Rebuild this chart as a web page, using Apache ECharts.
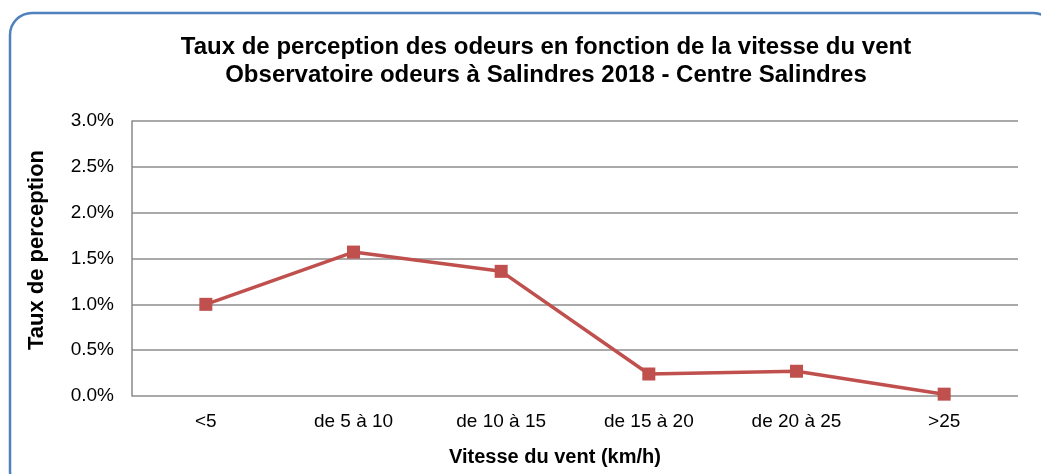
<!DOCTYPE html>
<html>
<head>
<meta charset="utf-8">
<script src="https://cdn.jsdelivr.net/npm/echarts@6/dist/echarts.min.js"></script>
<style>
  html, body { margin: 0; padding: 0; background: #fff; }
  #chart { width: 1041px; height: 474px; }
</style>
</head>
<body>
<div id="chart"></div>
<script>
// catégories de vitesse du vent
var categories = ["<5", "de 5 à 10", "de 10 à 15", "de 15 à 20", "de 20 à 25", ">25"];
// taux de perception (%)
var tauxPerception = [1.0, 1.57, 1.36, 0.24, 0.27, 0.02];
var yTicks = [0, 0.5, 1.0, 1.5, 2.0, 2.5, 3.0];

var myChart = echarts.init(document.getElementById("chart"));
var font = "Liberation Sans, Arial, sans-serif";

var option = {
  animation: false,
  title: {
    text: "Taux de perception des odeurs en fonction de la vitesse du vent\nObservatoire odeurs à Salindres 2018 - Centre Salindres",
    left: 541,
    top: 28,
    textAlign: "center",
    textStyle: {
      fontFamily: font,
      fontSize: 24,
      fontWeight: "bold",
      color: "#000",
      lineHeight: 28
    }
  },
  graphic: [
    {
      type: "rect",
      shape: { x: 10, y: 13, width: 1045, height: 480, r: 22 },
      style: { fill: "none", stroke: "#4F81BD", lineWidth: 2.5 },
      silent: true,
      z: -1
    },
    {
      type: "text",
      left: 449,
      top: 447,
      style: {
        text: "Vitesse du vent (km/h)",
        font: "bold 20px " + font,
        fill: "#000"
      }
    },
    {
      // titre de l'axe vertical
      type: "text",
      x: 37,
      y: 250,
      rotation: Math.PI / 2,
      style: {
        text: "Taux de perception",
        font: "bold 22px " + font,
        fill: "#000",
        align: "center",
        verticalAlign: "middle"
      }
    }
  ],
  grid: {
    left: 132,
    right: 23,
    top: 121,
    bottom: 78
  },
  xAxis: {
    type: "category",
    data: categories,
    axisLine: { show: false },
    axisTick: { show: false },
    axisLabel: {
      fontFamily: font,
      fontSize: 19,
      color: "#000",
      margin: 16
    }
  },
  yAxis: {
    type: "value",
    min: yTicks[0],
    max: yTicks[yTicks.length - 1],
    interval: 0.5,
    axisLine: { show: true, lineStyle: { color: "#888", width: 1.5 } },
    axisTick: { show: false },
    splitLine: { lineStyle: { color: "#8c8c8c", width: 1.5 } },
    axisLabel: {
      fontFamily: font,
      fontSize: 19,
      color: "#000",
      margin: 18,
      formatter: function (v) { return v.toFixed(1) + "%"; }
    }
  },
  series: [
    {
      type: "line",
      data: tauxPerception,
      symbol: "rect",
      symbolSize: 13,
      lineStyle: { color: "#C0504D", width: 3.5 },
      itemStyle: { color: "#C0504D" }
    }
  ]
};

myChart.setOption(option);
</script>
</body>
</html>
